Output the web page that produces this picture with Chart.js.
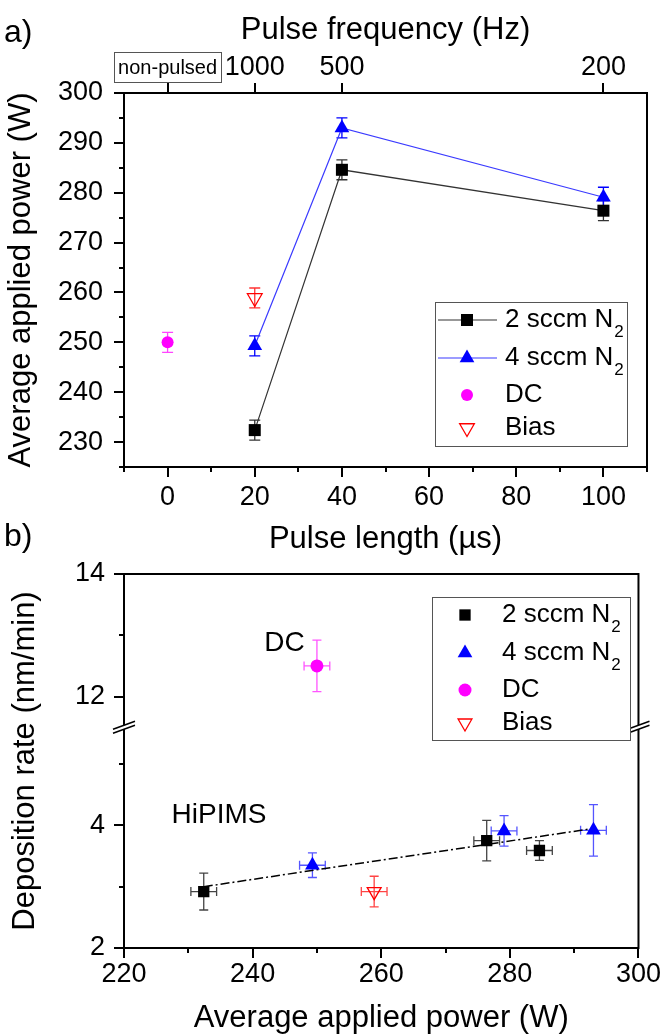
<!DOCTYPE html>
<html>
<head>
<meta charset="utf-8">
<title>Average applied power and deposition rate</title>
<script src="https://cdn.jsdelivr.net/npm/chart.js@4.4.0/dist/chart.umd.min.js"></script>
<style>
  body { margin: 0; background: #fff; }
  #wrap { position: relative; width: 671px; height: 1034px; }
  canvas { position: absolute; left: 0; }
  #powerChart { top: 0; }
  #rateChart { top: 500px; }
</style>
</head>
<body>
<div id="wrap">
  <canvas id="powerChart" width="671" height="570"></canvas>
  <canvas id="rateChart" width="671" height="534"></canvas>
</div>
<script>
// a) average applied power vs pulse length
const pulse2 = [20, 40, 100];
const power2 = [232.4, 284.6, 276.4];
const pulse4 = [20, 40, 100];
const power4 = [249.3, 293.0, 279.1];
const pulseDC = [0];
const powerDC = [250.0];
const pulseBias = [20];
const powerBias = [258.9];
const power2Err = [2, 2, 2];
const power4Err = [2, 2, 2];
const powerDCErr = [2];
const powerBiasErr = [2];

// top axis: pulse frequency belonging to each pulse length
const freqAt = [0, 20, 40, 100];
const freqLabels = ['non-pulsed', '1000', '500', '200'];

// b) deposition rate vs average applied power (x = powers above)
const rate2 = [2.92, 3.59, 3.75];
const rate4 = [3.35, 3.92, 3.91];
const rateDC = [12.5];
const rateBias = [2.92];
const rate2Err = [0.30, 0.16, 0.33];
const rate4Err = [0.20, 0.42, 0.25];
const rateDCErr = [0.42];
const rateBiasErr = [0.25];

// linear fit through the HiPIMS points
const fitPower = [232.4, 293.0];
const fitRate = [3.0, 3.95];

const FONT = "'Liberation Sans', Arial, sans-serif";
Chart.defaults.font.family = FONT;
Chart.defaults.color = '#000';

const pts = (xs, ys) => xs.map((x, i) => ({ x: x, y: ys[i] }));

const noGrid = { display: false, drawTicks: false };
const axisLine = { display: true, color: '#000', width: 2 };

// error bars drawn under the markers
const errorBars = {
  id: 'errorBars',
  beforeDatasetsDraw(chart) {
    const ctx = chart.ctx;
    chart.data.datasets.forEach((ds, i) => {
      if (!ds.errX && !ds.errY) return;
      const meta = chart.getDatasetMeta(i);
      const xs = chart.scales[meta.xAxisID];
      const ys = chart.scales[meta.yAxisID];
      const cap = ds.errCap || 5;
      ctx.save();
      ctx.strokeStyle = ds.errColor;
      ctx.lineWidth = 1.3;
      ctx.beginPath();
      ds.data.forEach((p, j) => {
        const px = xs.getPixelForValue(p.x);
        const py = ys.getPixelForValue(p.y);
        if (ds.errY) {
          const y0 = ys.getPixelForValue(p.y - ds.errY[j]);
          const y1 = ys.getPixelForValue(p.y + ds.errY[j]);
          ctx.moveTo(px, y0); ctx.lineTo(px, y1);
          ctx.moveTo(px - cap, y0); ctx.lineTo(px + cap, y0);
          ctx.moveTo(px - cap, y1); ctx.lineTo(px + cap, y1);
        }
        if (ds.errX) {
          const x0 = xs.getPixelForValue(p.x - ds.errX[j]);
          const x1 = xs.getPixelForValue(p.x + ds.errX[j]);
          ctx.moveTo(x0, py); ctx.lineTo(x1, py);
          ctx.moveTo(x0, py - cap); ctx.lineTo(x0, py + cap);
          ctx.moveTo(x1, py - cap); ctx.lineTo(x1, py + cap);
        }
      });
      ctx.stroke();
      ctx.restore();
    });
  }
};

// outward tick marks: long where a label is shown, short otherwise
const tickMarks = {
  id: 'tickMarks',
  afterDraw(chart) {
    const ctx = chart.ctx;
    ctx.save();
    ctx.strokeStyle = '#000';
    ctx.lineWidth = 2;
    ctx.beginPath();
    Object.values(chart.scales).forEach((scale) => {
      scale.ticks.forEach((t) => {
        const len = t.label === '' ? 5 : 10;
        const p = Math.round(scale.getPixelForValue(t.value));
        if (scale.position === 'bottom') {
          ctx.moveTo(p, scale.top); ctx.lineTo(p, scale.top + len);
        } else if (scale.position === 'top') {
          ctx.moveTo(p, scale.bottom); ctx.lineTo(p, scale.bottom - len);
        } else {
          ctx.moveTo(scale.right, p); ctx.lineTo(scale.right - len, p);
        }
      });
    });
    ctx.stroke();
    // closed frame round the plot
    const a = chart.chartArea;
    ctx.strokeRect(a.left, a.top, a.right - a.left, a.bottom - a.top);
    ctx.restore();
  }
};

function drawName(ctx, ds, x, y) {
  ctx.font = '26px ' + FONT;
  ctx.fillStyle = '#000';
  ctx.textAlign = 'left';
  ctx.textBaseline = 'middle';
  ctx.fillText(ds.label, x, y);
  if (ds.sub) {
    const w = ctx.measureText(ds.label).width;
    ctx.font = '17px ' + FONT;
    ctx.fillText(ds.sub, x + w + 1, y + 12);
  }
}

// boxed key with marker (and line sample) for the first four series
function drawKey(chart, key) {
  const ctx = chart.ctx;
  ctx.save();
  ctx.fillStyle = '#fff';
  ctx.fillRect(key.left, key.top, key.width, key.height);
  ctx.strokeStyle = '#555';
  ctx.lineWidth = 1;
  ctx.strokeRect(key.left + 0.5, key.top + 0.5, key.width, key.height);
  key.rows.forEach((dy, i) => {
    const ds = chart.data.datasets[i];
    const y = key.top + dy;
    if (key.lines && ds.showLine) {
      ctx.strokeStyle = ds.borderColor;
      ctx.lineWidth = ds.borderWidth;
      ctx.beginPath();
      ctx.moveTo(key.left + 3, y);
      ctx.lineTo(key.left + 62, y);
      ctx.stroke();
    }
    ctx.fillStyle = ds.pointBackgroundColor;
    ctx.strokeStyle = ds.pointBorderColor || ds.pointBackgroundColor;
    ctx.lineWidth = ds.pointBorderWidth;
    Chart.helpers.drawPoint(ctx, {
      pointStyle: ds.pointStyle,
      radius: ds.pointRadius,
      rotation: ds.pointRotation || 0,
      borderWidth: ds.pointBorderWidth
    }, key.markerX, y);
    drawName(ctx, ds, key.textX, y);
  });
  ctx.restore();
}

function panelLetter(ctx, text, y) {
  ctx.save();
  ctx.font = '32px ' + FONT;
  ctx.fillStyle = '#000';
  ctx.textBaseline = 'alphabetic';
  ctx.fillText(text, 4, y);
  ctx.restore();
}

const powerExtras = {
  id: 'powerExtras',
  afterDraw(chart) {
    const ctx = chart.ctx;
    // box round the "non-pulsed" frequency label
    const top = chart.scales.x2;
    const cx = top.getPixelForValue(freqAt[0]);
    ctx.save();
    ctx.font = '20px ' + FONT;
    const w = ctx.measureText(freqLabels[0]).width;
    ctx.strokeStyle = '#555';
    ctx.lineWidth = 1;
    ctx.strokeRect(Math.round(cx - w / 2 - 4) + 0.5, 52.5, Math.round(w + 8), 30);
    ctx.restore();
    drawKey(chart, { left: 435, top: 302, width: 192, height: 144,
      rows: [18, 56, 93, 126], lines: true, markerX: 467, textX: 505 });
    panelLetter(ctx, 'a)', 42);
  }
};

const rateExtras = {
  id: 'rateExtras',
  afterDraw(chart) {
    const ctx = chart.ctx;
    const a = chart.chartArea;
    // axis break between the DC and HiPIMS ranges
    const yb = chart.scales.yHi.bottom;
    ctx.save();
    [a.left, a.right].forEach((x) => {
      ctx.fillStyle = '#fff';
      ctx.beginPath();
      ctx.moveTo(x - 11, yb + 6); ctx.lineTo(x + 11, yb - 2);
      ctx.lineTo(x + 11, yb - 6); ctx.lineTo(x - 11, yb + 2);
      ctx.closePath();
      ctx.fill();
      ctx.strokeStyle = '#000';
      ctx.lineWidth = 1.5;
      ctx.beginPath();
      ctx.moveTo(x - 11, yb + 6); ctx.lineTo(x + 11, yb - 2);
      ctx.moveTo(x - 11, yb + 2); ctx.lineTo(x + 11, yb - 6);
      ctx.stroke();
    });
    // y title spans both parts of the broken axis
    ctx.translate(25, (a.top + a.bottom) / 2);
    ctx.rotate(-Math.PI / 2);
    ctx.font = '31px ' + FONT;
    ctx.fillStyle = '#000';
    ctx.textAlign = 'center';
    ctx.textBaseline = 'middle';
    ctx.fillText('Deposition rate (nm/min)', 0, 0);
    ctx.restore();

    const xs = chart.scales.x;
    ctx.save();
    ctx.font = '28px ' + FONT;
    ctx.fillStyle = '#000';
    ctx.fillText('DC', xs.getPixelForValue(241.8), chart.scales.yHi.getPixelForValue(12.75));
    ctx.fillText('HiPIMS', xs.getPixelForValue(227.4), chart.scales.y.getPixelForValue(4.04));
    ctx.restore();

    drawKey(chart, { left: 432, top: 97, width: 198, height: 143,
      rows: [18, 56, 93, 126], lines: false, markerX: 465, textX: 502 });
    panelLetter(ctx, 'b)', 46);
  }
};

const common = {
  responsive: false,
  animation: false,
  devicePixelRatio: 1,
  events: [],
  plugins: { legend: { display: false }, tooltip: { enabled: false } }
};

new Chart(document.getElementById('powerChart'), {
  type: 'scatter',
  data: {
    datasets: [
      { label: '2 sccm N', sub: '2', data: pts(pulse2, power2), errY: power2Err, errColor: '#333', errCap: 5.5,
        showLine: true, borderColor: '#333', borderWidth: 1.2,
        pointStyle: 'rect', pointRadius: 8.5, pointBackgroundColor: '#000', pointBorderWidth: 0 },
      { label: '4 sccm N', sub: '2', data: pts(pulse4, power4), errY: power4Err, errColor: '#0000ff', errCap: 5.5,
        showLine: true, borderColor: '#3a3aff', borderWidth: 1.2,
        pointStyle: 'triangle', pointRadius: 8.5, pointBackgroundColor: '#0000ff', pointBorderWidth: 0 },
      { label: 'DC', data: pts(pulseDC, powerDC), errY: powerDCErr, errColor: '#ff44ff', errCap: 5.5,
        pointStyle: 'circle', pointRadius: 6, pointBackgroundColor: '#ff00ff', pointBorderWidth: 0 },
      { label: 'Bias', data: pts(pulseBias, powerBias), errY: powerBiasErr, errColor: '#ff3333', errCap: 5.5,
        pointStyle: 'triangle', pointRotation: 180, pointRadius: 8.5,
        pointBackgroundColor: 'rgba(255,255,255,0)', pointBorderColor: '#ff0000', pointBorderWidth: 1.3 }
    ]
  },
  options: Object.assign({}, common, {
    layout: { padding: { left: 0, right: 24, top: 0, bottom: 0 } },
    scales: {
      x: {
        type: 'linear', position: 'bottom', min: -10, max: 110,
        afterFit: (s) => { s.height = 103; },
        grid: noGrid, border: axisLine,
        ticks: { stepSize: 10, autoSkip: false, maxRotation: 0, padding: 14, font: { size: 27 },
          callback: (v) => (v % 20 === 0 && v >= 0 && v <= 100) ? v : '' },
        title: { display: true, text: 'Pulse length (µs)', font: { size: 31 }, padding: { top: 0, bottom: 12 } }
      },
      x2: {
        type: 'linear', position: 'top', min: -10, max: 110,
        afterFit: (s) => { s.height = 93; },
        afterBuildTicks: (s) => { s.ticks = freqAt.map((v) => ({ value: v })); },
        grid: noGrid, border: axisLine,
        ticks: { autoSkip: false, maxRotation: 0, padding: 9,
          font: (c) => c.index === 0 ? { size: 20, lineHeight: 1.6 } : { size: 27 },
          callback: (v, i) => freqLabels[i] },
        title: { display: true, text: 'Pulse frequency (Hz)', font: { size: 31 }, padding: { top: 12, bottom: 0 } }
      },
      y: {
        type: 'linear', position: 'left', min: 225, max: 300,
        afterFit: (s) => { s.width = 124; },
        grid: noGrid, border: axisLine,
        ticks: { stepSize: 5, autoSkip: false, padding: 21, font: { size: 27 },
          callback: (v) => v % 10 === 0 ? v : '' },
        title: { display: true, text: 'Average applied power (W)', font: { size: 31 }, padding: { top: 3, bottom: 0 } }
      }
    }
  }),
  plugins: [errorBars, tickMarks, powerExtras]
});

new Chart(document.getElementById('rateChart'), {
  type: 'scatter',
  data: {
    datasets: [
      { label: '2 sccm N', sub: '2', data: pts(power2, rate2), errX: power2Err, errY: rate2Err,
        errColor: '#444', errCap: 4.5,
        pointStyle: 'rect', pointRadius: 8, pointBackgroundColor: '#000', pointBorderWidth: 0 },
      { label: '4 sccm N', sub: '2', data: pts(power4, rate4), errX: power4Err, errY: rate4Err,
        errColor: '#5555ff', errCap: 4.5,
        pointStyle: 'triangle', pointRadius: 8.5, pointBackgroundColor: '#0000ff', pointBorderWidth: 0 },
      { label: 'DC', data: pts(powerDC, rateDC), yAxisID: 'yHi', errX: powerDCErr, errY: rateDCErr,
        errColor: '#ff55ff', errCap: 4.5,
        pointStyle: 'circle', pointRadius: 6.5, pointBackgroundColor: '#ff00ff', pointBorderWidth: 0 },
      { label: 'Bias', data: pts(powerBias, rateBias), errX: powerBiasErr, errY: rateBiasErr,
        errColor: '#ff4444', errCap: 4.5,
        pointStyle: 'triangle', pointRotation: 180, pointRadius: 8,
        pointBackgroundColor: 'rgba(255,255,255,0)', pointBorderColor: '#ff0000', pointBorderWidth: 1.3 },
      { label: 'fit', data: pts(fitPower, fitRate), showLine: true,
        borderColor: '#000', borderWidth: 1.5, borderDash: [9, 3, 2, 3], pointRadius: 0 }
    ]
  },
  options: Object.assign({}, common, {
    layout: { padding: { left: 0, right: 24, top: 74, bottom: 0 } },
    scales: {
      x: {
        type: 'linear', position: 'bottom', min: 220, max: 300,
        afterFit: (s) => { s.height = 86; },
        grid: noGrid, border: axisLine,
        ticks: { stepSize: 10, autoSkip: false, maxRotation: 0, padding: 10, font: { size: 27 },
          callback: (v) => v % 20 === 0 ? v : '' },
        title: { display: true, text: 'Average applied power (W)', font: { size: 31, lineHeight: 1 },
          padding: { top: 0, bottom: 0 } }
      },
      y: {
        type: 'linear', position: 'left', stack: 'rate', stackWeight: 3.6, min: 2, max: 5.6,
        afterFit: (s) => { s.width = 124; },
        grid: noGrid, border: axisLine,
        ticks: { stepSize: 1, includeBounds: false, autoSkip: false, padding: 19, font: { size: 27 },
          callback: (v) => v % 2 === 0 ? v : '' }
      },
      yHi: {
        type: 'linear', position: 'left', stack: 'rate', stackWeight: 2.5, min: 11.5, max: 14,
        afterFit: (s) => { s.width = 124; },
        grid: noGrid, border: axisLine,
        ticks: { stepSize: 1, includeBounds: false, autoSkip: false, padding: 19, font: { size: 27 },
          callback: (v) => v % 2 === 0 ? v : '' }
      }
    }
  }),
  plugins: [errorBars, tickMarks, rateExtras]
});
</script>
</body>
</html>
